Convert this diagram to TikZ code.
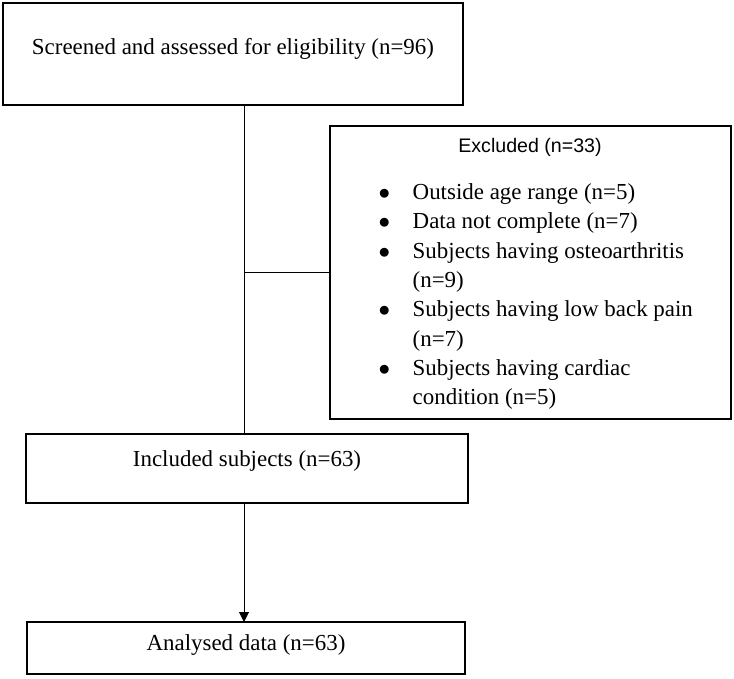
\documentclass[tikz,border=0pt]{standalone}
\usepackage{fontspec}
\setmainfont{Liberation Serif}
\newfontfamily\headfont{Liberation Sans}
\usetikzlibrary{arrows.meta}

\tikzset{every picture/.style={line width=0.75pt}}
\tikzset{
  flowbox/.style={draw, line width=1.5pt, inner sep=0pt, outer sep=0pt, align=center, font=\fontsize{17.2}{20}\selectfont},
  flowline/.style={draw, line width=0.75pt},
}
\newcommand{\liftup}[2]{\raisebox{#1}[\height][\depth]{#2}}

\begin{document}
\begin{tikzpicture}[x=0.75pt,y=0.75pt,yscale=-1,xscale=1]
\useasboundingbox (0,0) rectangle (734,678);

%Shape: Rectangle [screened]
\node (screen) [flowbox, minimum width=345pt, minimum height=76.5pt] at (233,54) {\liftup{4pt}{Screened and assessed for eligibility (n=96)}};
%Shape: Rectangle [excluded]
\node (excl) [flowbox, minimum width=300.75pt, minimum height=219.75pt] at (530.5,272.5) {};
%Shape: Rectangle [included]
\node (incl) [flowbox, minimum width=331.5pt, minimum height=51.75pt] at (247,468.5) {\liftup{5.5pt}{Included subjects (n=63)}};
%Shape: Rectangle [analysed]
\node (anal) [flowbox, line width=0.9pt, minimum width=328.5pt, minimum height=39pt] at (246,648) {\liftup{2pt}{Analysed data (n=63)}};

% Text Node
\node (exhead) [font=\headfont\fontsize{14.7}{17}\selectfont] at (530,147) {Excluded (n=33)};
% Text Node
\node (exlist) [anchor=base west, inner sep=0pt, font=\fontsize{17.2}{22}\selectfont] at (378,199.5) {%
\begin{tabular}[t]{@{}l@{\hspace{17pt}}l@{}}
$\bullet$ & Outside age range (n=5)\\
$\bullet$ & Data not complete (n=7)\\
$\bullet$ & Subjects having osteoarthritis\\
 & (n=9)\\
$\bullet$ & Subjects having low back pain\\
 & (n=7)\\
$\bullet$ & Subjects having cardiac\\
 & condition (n=5)
\end{tabular}};

%Straight Lines
\coordinate (split) at (244,272);
\draw [flowline] (screen.south -| split) -- (incl.north -| split);
\draw [flowline] (split) -- (excl.west |- split);
\draw [flowline, -{Triangle[width=7.5pt,length=7.5pt]}] (incl.south -| split) -- (anal.north -| split);

\end{tikzpicture}
\end{document}
